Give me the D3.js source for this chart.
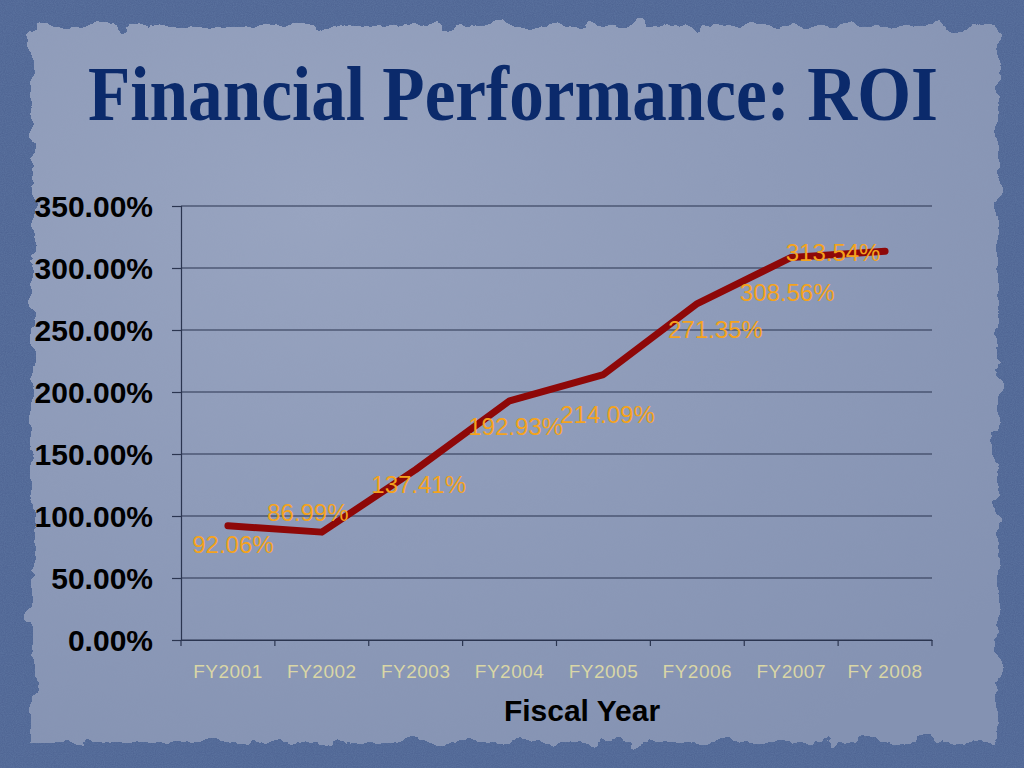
<!DOCTYPE html>
<html><head><meta charset="utf-8">
<script src="https://cdn.jsdelivr.net/npm/d3@7"></script>
<style>body{margin:0;background:#4d6391;}svg{display:block;}</style>
</head><body>
<svg id="c" width="1024" height="768"></svg>
<script>
const categories = ["FY2001","FY2002","FY2003","FY2004","FY2005","FY2006","FY2007","FY 2008"];
const roiValues = [92.06, 86.99, 137.41, 192.93, 214.09, 271.35, 308.56, 313.54];
const valueLabels = ["92.06%","86.99%","137.41%","192.93%","214.09%","271.35%","308.56%","313.54%"];
const yTicks = [0, 50, 100, 150, 200, 250, 300, 350];
// label offsets (dx, dy) relative to each point
const labelOffsets = [[5,19],[-14,-20],[3,15],[6,26],[4,40],[18,26],[-4,35],[-52,1]];

const svg = d3.select("#c");
const defs = svg.append("defs");
const f = defs.append("filter").attr("id","rough").attr("x","-5%").attr("y","-5%").attr("width","110%").attr("height","110%");
f.append("feTurbulence").attr("type","fractalNoise").attr("baseFrequency","0.035").attr("numOctaves","4").attr("seed","3").attr("result","n");
f.append("feDisplacementMap").attr("in","SourceGraphic").attr("in2","n").attr("scale","22").attr("xChannelSelector","R").attr("yChannelSelector","G");
const t = defs.append("filter").attr("id","tex");
t.append("feTurbulence").attr("type","fractalNoise").attr("baseFrequency","0.9").attr("numOctaves","2").attr("seed","7").attr("result","n");
t.append("feColorMatrix").attr("in","n").attr("type","matrix").attr("values","0 0 0 0 0.2  0 0 0 0 0.3  0 0 0 0 0.5  0 0 0 0.35 0").attr("result","c");
t.append("feComposite").attr("in","c").attr("in2","SourceGraphic").attr("operator","in");
const g = defs.append("radialGradient").attr("id","paper").attr("cx","0.3").attr("cy","0.25").attr("r","0.9");
g.append("stop").attr("offset","0").attr("stop-color","#98a4c0");
g.append("stop").attr("offset","1").attr("stop-color","#8492b2");

svg.append("rect").attr("width",1024).attr("height",768).attr("fill","#4c6291");
svg.append("rect").attr("width",1024).attr("height",768).attr("fill","#4c6291").attr("filter","url(#tex)");
svg.append("rect").attr("x",32).attr("y",26).attr("width",966).attr("height",716).attr("fill","url(#paper)").attr("filter","url(#rough)");

const title = svg.append("text").attr("text-anchor","middle")
  .attr("font-family","'Liberation Serif', serif").attr("font-weight","bold").attr("font-size",78)
  .attr("fill","#0b2a6b").text("Financial Performance: ROI");
const tw = title.node().getComputedTextLength();
const sx = 850 / tw;
title.attr("transform",`translate(513,120) scale(${sx},1)`);

const x = d3.scaleBand().domain(categories).range([181,932]);
const y = d3.scaleLinear().domain([0,350]).range([640,206]);

// gridlines
svg.append("g").selectAll("line").data(yTicks).join("line")
  .attr("x1",181).attr("x2",932).attr("y1",d=>y(d)).attr("y2",d=>y(d))
  .attr("stroke","#2b3550").attr("stroke-width",1.2);

// y axis
const ya = svg.append("g").attr("transform","translate(181,0)")
  .call(d3.axisLeft(y).tickValues(yTicks).tickSize(9).tickFormat(d=>d.toFixed(2)+"%"));
ya.select(".domain").attr("stroke","#2b3550").attr("stroke-width",1.2);
ya.selectAll(".tick line").attr("stroke","#2b3550").attr("stroke-width",1.2);
ya.selectAll("text").attr("font-family","'Liberation Sans', Arial, sans-serif").attr("font-weight","bold")
  .attr("font-size",30).attr("fill","#000").attr("x",-28).attr("dy","0.36em");

// x axis
const xa = svg.append("g").attr("transform","translate(0,640)").call(d3.axisBottom(x).tickSize(0));
xa.select(".domain").attr("stroke","#2b3550").attr("stroke-width",1.2);
xa.selectAll("text").attr("font-family","'Liberation Sans', Arial, sans-serif").attr("font-size",19)
  .attr("fill","#d9d6a6").attr("y",38).attr("dy",0).attr("letter-spacing","0.5");
svg.append("g").selectAll("line").data(d3.range(categories.length+1)).join("line")
  .attr("x1",i=>181+i*x.step()).attr("x2",i=>181+i*x.step()).attr("y1",640).attr("y2",646)
  .attr("stroke","#2b3550").attr("stroke-width",1.2);

svg.append("text").attr("x",582).attr("y",721).attr("text-anchor","middle")
  .attr("font-family","'Liberation Sans', Arial, sans-serif").attr("font-weight","bold").attr("font-size",30)
  .attr("fill","#000").text("Fiscal Year");

const pts = categories.map((c,i)=>[x(c)+x.bandwidth()/2, y(roiValues[i])]);
svg.append("path").attr("d",d3.line()(pts)).attr("fill","none").attr("stroke","#8e0808")
  .attr("stroke-width",7).attr("stroke-linejoin","round").attr("stroke-linecap","round");

svg.append("g").selectAll("text").data(valueLabels).join("text")
  .attr("x",(d,i)=>pts[i][0]+labelOffsets[i][0]).attr("y",(d,i)=>pts[i][1]+labelOffsets[i][1])
  .attr("text-anchor","middle").attr("dy","0.35em")
  .attr("font-family","'Liberation Sans', Arial, sans-serif").attr("font-size",24)
  .attr("fill","#f4a31e").text(d=>d);
</script>
</body></html>
